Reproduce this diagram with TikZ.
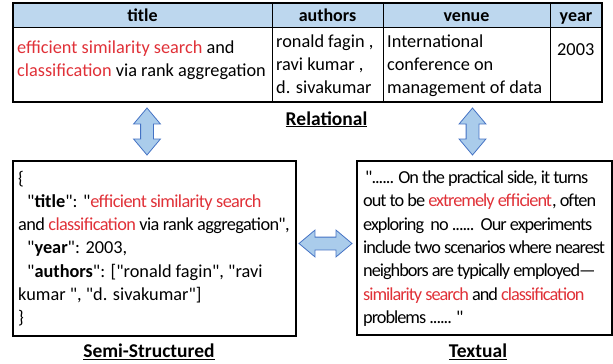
\documentclass[tikz,border=0pt]{standalone}
\usepackage{fontspec}
\setmainfont{Carlito}[Ligatures=TeXOff]
\usetikzlibrary{shapes.arrows}
\definecolor{hdrblue}{RGB}{189,215,238}
\definecolor{hlred}{RGB}{224,49,56}
\definecolor{arrfill}{RGB}{170,204,235}
\definecolor{arrdraw}{RGB}{68,114,196}
\newcommand{\hl}[1]{\textcolor{hlred}{#1}}
\newcommand{\tightsp}{\addfontfeatures{LetterSpace=-3.5}}
\newcommand{\tightersp}{\addfontfeatures{LetterSpace=-5.5}}
\newcommand{\lines}[1]{\begin{tabular}[t]{@{}l@{}}#1\end{tabular}}
\tikzset{
    cell/.style={anchor=base west, inner sep=0pt, font=\fontsize{18.3}{23.3}\selectfont},
    hdr/.style={anchor=base, inner sep=0pt, font=\bfseries\fontsize{18}{18}\selectfont},
    caption/.style={anchor=base, inner sep=0pt, font=\bfseries\fontsize{19.5}{20}\selectfont},
    dblarrow/.style={double arrow, draw=arrdraw, fill=arrfill, line width=0.8pt,
        inner xsep=0pt, inner ysep=6pt, minimum width=26pt,
        double arrow head extend=7pt, double arrow tip angle=80}
}
\begin{document}
\begin{tikzpicture}[x=1pt,y=-1pt]
    \useasboundingbox (0,0) rectangle (613,364);

    % relational table
    \fill[hdrblue] (13,3) rectangle (602,27);
    \draw[line width=1.4pt] (13,3) rectangle (602,102);
    \draw[line width=1pt] (13,27) -- (602,27);
    \foreach \x in {272,383,550}
        \draw[line width=1pt] (\x,3) -- (\x,102);
    \foreach \x/\n/\t in {142.5/htitle/title,327.5/hauthors/authors,466.5/hvenue/venue,576/hyear/year}
        \node[hdr] (\n) at (\x,21.5) {\t};

    \node[cell] (title) at (17,53) {\lines{\hl{efficient similarity search} and\\\hl{classification} via rank aggregation}};
    \node[cell] (authors) at (276,47) {\lines{ronald fagin ,\\ravi kumar ,\\d. sivakumar}};
    \node[cell] (venue) at (387,47) {\lines{International\\conference on\\management of data}};
    \node[cell] (year) at (557,55) {2003};
    \node[caption] (relational) at (326.5,125) {\underline{Relational}};

    % semi-structured
    \draw[line width=1.1pt] (13,161) rectangle (296,336);
    \node[cell] (json) at (18,184) {\lines{\{\\
        \hspace*{9pt}"\textbf{title}": "{\tightsp\hl{efficient similarity search}}\\
        {\tightsp and \hl{classification} via rank aggregation",}\\
        \hspace*{9pt}"\textbf{year}": 2003,\\
        \hspace*{9pt}"\textbf{authors}": ["ronald fagin", "ravi\\
        kumar ", "d. sivakumar"]\\
        \}}};
    \node[caption] (semi) at (149,357.5) {\underline{Semi-Structured}};

    % textual
    \draw[line width=1.1pt] (357,161) rectangle (612,335);
    \node[cell] (text) at (363,183.5) {\tightersp\lines{
        \hspace*{2pt}"...... On the practical side, it turns\\
        out to be \hl{extremely efficient}, often\\
        exploring\ \ no ......\ \ Our experiments\\
        include two scenarios where nearest\\
        neighbors are typically employed—\\
        \hl{similarity search} and \hl{classification}\\
        problems ...... "}};
    \node[caption] (textual) at (478,357.5) {\underline{Textual}};

    % block arrows
    \node[dblarrow, minimum height=47pt, rotate=90] (arrowL) at (147,131.5) {};
    \node[dblarrow, minimum height=47pt, rotate=90] (arrowR) at (472.5,131.5) {};
    \node[dblarrow, minimum height=53pt] (arrowM) at (325.5,243.5) {};
\end{tikzpicture}
\end{document}
